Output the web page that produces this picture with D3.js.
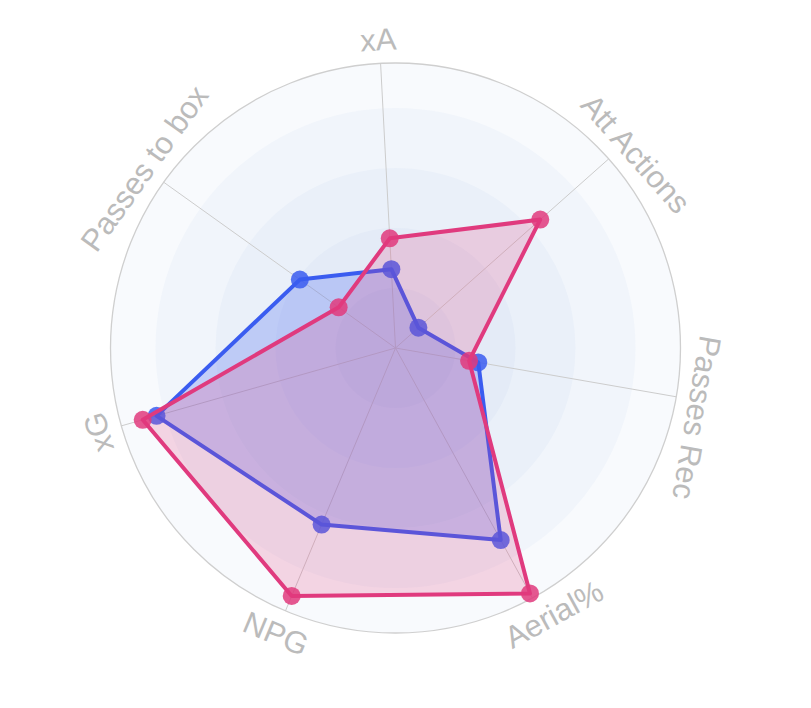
<!DOCTYPE html>
<html>
<head>
<meta charset="utf-8">
<script src="https://cdn.jsdelivr.net/npm/d3@7"></script>
<style>
html,body{margin:0;padding:0;background:#fff;}
svg{display:block;}
</style>
</head>
<body>
<svg id="chart" width="811" height="708"></svg>
<script>
const axes = ["xA", "Att Actions", "Passes Rec", "Aerial%", "NPG", "xG", "Passes to box"];
const seriesBlue = [26.3, 10.2, 28.0, 73.0, 63.8, 82.8, 39.2];
const seriesPink = [36.6, 64.5, 24.9, 93.3, 89.6, 87.6, 23.3];
const ringTicks = [95, 80, 60, 40, 20];
const maxValue = 95;

const W = 811, H = 708;
const cx = 395.5, cy = 348, R = 285;
const startDeg = -3;
// small shift of each label along its reading direction (layout only)
const labelShift = [-1, 14, 17, 11, 0, 0, 0];

const svg = d3.select("#chart");
const g = svg.append("g").attr("transform", `translate(${cx},${cy})`);

const r = d3.scaleLinear().domain([0, maxValue]).range([0, R]);
const step = 2 * Math.PI / axes.length;
const ang = i => (startDeg * Math.PI / 180) + i * step;

// background rings
g.selectAll("circle.ring").data(ringTicks).join("circle")
  .attr("class", "ring")
  .attr("r", d => r(d))
  .attr("fill", "rgba(120,160,210,0.05)")
  .attr("stroke", "none");
g.append("circle").attr("r", r(maxValue)).attr("fill", "none")
  .attr("stroke", "#cfcfcf").attr("stroke-width", 1.3);

// spokes
g.selectAll("line.spoke").data(axes).join("line")
  .attr("class", "spoke")
  .attr("x1", 0).attr("y1", 0)
  .attr("x2", (d, i) => r(maxValue) * Math.sin(ang(i)))
  .attr("y2", (d, i) => -r(maxValue) * Math.cos(ang(i)))
  .attr("stroke", "#cccccc").attr("stroke-width", 1);

// series
const series = [
  {values: seriesBlue, stroke: "#3a5cf0", fill: "rgba(59,91,240,0.25)", dot: "rgba(58,92,240,0.85)"},
  {values: seriesPink, stroke: "#e03a7e", fill: "rgba(224,58,125,0.2)", dot: "rgba(224,58,125,0.85)"}
];
const radial = d3.lineRadial()
  .angle((d, i) => ang(i))
  .radius(d => r(d))
  .curve(d3.curveLinearClosed);

series.forEach(s => {
  const sg = g.append("g");
  sg.append("path").attr("d", radial(s.values))
    .attr("fill", s.fill).attr("stroke", s.stroke)
    .attr("stroke-width", 4).attr("stroke-linejoin", "round");
  sg.selectAll("circle").data(s.values).join("circle")
    .attr("cx", (d, i) => r(d) * Math.sin(ang(i)))
    .attr("cy", (d, i) => -r(d) * Math.cos(ang(i)))
    .attr("r", 9)
    .attr("fill", s.dot);
});

// labels
const labR = R + 13;
g.selectAll("text.lab").data(axes).join("text")
  .attr("class", "lab")
  .attr("transform", (d, i) => {
    const a = ang(i);
    const x = labR * Math.sin(a), y = -labR * Math.cos(a);
    let deg = a * 180 / Math.PI;
    const flip = Math.cos(a) < -0.5;
    if (flip) deg -= 180;
    return `translate(${x},${y}) rotate(${deg})`;
  })
  .attr("dx", (d, i) => labelShift[i])
  .attr("dy", (d, i) => Math.cos(ang(i)) < -0.5 ? "0.72em" : "0")
  .attr("text-anchor", "middle")
  .attr("font-family", "'Liberation Sans', Arial, Helvetica, sans-serif")
  .attr("font-size", 31)
  .attr("fill", "#bbbbbb")
  .text(d => d);
</script>
</body>
</html>
